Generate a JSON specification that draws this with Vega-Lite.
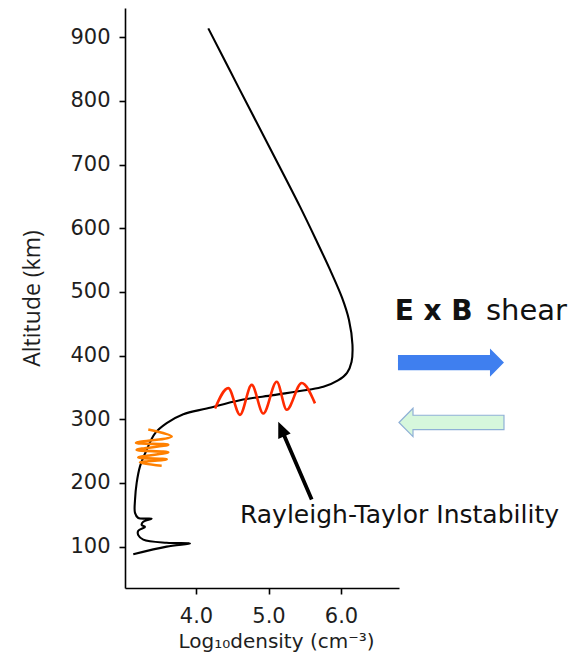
{
  "$schema": "https://vega.github.io/schema/vega-lite/v6.json",
  "width": 274,
  "height": 580,
  "autosize": {"type": "none"},
  "padding": {"left": 125, "top": 8, "right": 176, "bottom": 69},
  "background": "white",
  "config": {
    "view": {"stroke": null},
    "axis": {
      "grid": false,
      "domainColor": "black",
      "domainWidth": 1.6,
      "tickColor": "black",
      "tickWidth": 1.6,
      "tickSize": 6,
      "labelFont": "DejaVu Sans",
      "labelFontSize": 21,
      "labelColor": "#1e1e1e",
      "titleColor": "#1e1e1e",
      "titleFontWeight": "normal"
    }
  },
  "datasets": {
    "profile": [
      {"i": 1, "density": 4.169, "altitude": 914},
      {"i": 2, "density": 4.606, "altitude": 817},
      {"i": 3, "density": 5.033, "altitude": 723},
      {"i": 4, "density": 5.434, "altitude": 634},
      {"i": 5, "density": 5.655, "altitude": 582},
      {"i": 6, "density": 5.848, "altitude": 535},
      {"i": 7, "density": 6.014, "altitude": 491},
      {"i": 8, "density": 6.110, "altitude": 456},
      {"i": 9, "density": 6.158, "altitude": 417},
      {"i": 10, "density": 6.145, "altitude": 390},
      {"i": 11, "density": 6.083, "altitude": 373},
      {"i": 12, "density": 5.958, "altitude": 361},
      {"i": 13, "density": 5.756, "altitude": 351},
      {"i": 14, "density": 5.527, "altitude": 346},
      {"i": 15, "density": 5.066, "altitude": 338},
      {"i": 16, "density": 4.606, "altitude": 330},
      {"i": 17, "density": 4.147, "altitude": 317},
      {"i": 18, "density": 3.824, "altitude": 308},
      {"i": 19, "density": 3.595, "altitude": 294},
      {"i": 20, "density": 3.434, "altitude": 278},
      {"i": 21, "density": 3.319, "altitude": 252},
      {"i": 22, "density": 3.227, "altitude": 226},
      {"i": 23, "density": 3.181, "altitude": 200},
      {"i": 24, "density": 3.158, "altitude": 173},
      {"i": 25, "density": 3.158, "altitude": 153},
      {"i": 26, "density": 3.203, "altitude": 145},
      {"i": 27, "density": 3.388, "altitude": 144},
      {"i": 28, "density": 3.272, "altitude": 139},
      {"i": 29, "density": 3.250, "altitude": 134},
      {"i": 30, "density": 3.296, "altitude": 131},
      {"i": 31, "density": 3.203, "altitude": 125},
      {"i": 32, "density": 3.203, "altitude": 118},
      {"i": 33, "density": 3.272, "altitude": 111},
      {"i": 34, "density": 3.595, "altitude": 106},
      {"i": 35, "density": 3.917, "altitude": 105},
      {"i": 36, "density": 3.595, "altitude": 100},
      {"i": 37, "density": 3.134, "altitude": 88}
    ],
    "rt_wave": [
      {"i": 1, "density": 4.262, "altitude": 317},
      {"i": 2, "density": 4.445, "altitude": 349},
      {"i": 3, "density": 4.606, "altitude": 307},
      {"i": 4, "density": 4.768, "altitude": 354},
      {"i": 5, "density": 4.928, "altitude": 309},
      {"i": 6, "density": 5.113, "altitude": 359},
      {"i": 7, "density": 5.251, "altitude": 315},
      {"i": 8, "density": 5.458, "altitude": 357},
      {"i": 9, "density": 5.641, "altitude": 325}
    ],
    "coil": [
      {"i": 1, "density": 3.341, "altitude": 284},
      {"i": 2, "density": 3.664, "altitude": 273},
      {"i": 3, "density": 3.172, "altitude": 263},
      {"i": 4, "density": 3.617, "altitude": 260},
      {"i": 5, "density": 3.181, "altitude": 252},
      {"i": 6, "density": 3.617, "altitude": 248},
      {"i": 7, "density": 3.203, "altitude": 240},
      {"i": 8, "density": 3.595, "altitude": 237},
      {"i": 9, "density": 3.227, "altitude": 232},
      {"i": 10, "density": 3.526, "altitude": 227}
    ],
    "rt_arrow": [{"density": 5.365, "altitude": 235}],
    "blue_arrow": [{"density": 7.517, "altitude": 389}],
    "green_arrow": [{"density": 7.524, "altitude": 295}],
    "rt_label": [{"density": 4.606, "altitude": 137, "label": "Rayleigh-Taylor Instability"}],
    "exb_label": [{"density": 6.74, "altitude": 456, "label": "E x B"}],
    "shear_label": [{"density": 8.0, "altitude": 456, "label": "shear"}]
  },
  "encoding": {
    "x": {
      "field": "density",
      "type": "quantitative",
      "scale": {"domain": [3.02, 6.8], "nice": false, "zero": false},
      "axis": {
        "values": [4, 5, 6],
        "format": ".1f",
        "labelPadding": 11,
        "title": "Log₁₀density (cm⁻³)",
        "titleFont": "DejaVu Sans",
        "titleFontSize": 20,
        "titlePadding": 5,
        "titleX": 151
      }
    },
    "y": {
      "field": "altitude",
      "type": "quantitative",
      "scale": {"domain": [35, 946], "nice": false, "zero": false},
      "axis": {
        "values": [100, 200, 300, 400, 500, 600, 700, 800, 900],
        "format": "d",
        "labelPadding": 9,
        "title": "Altitude (km)",
        "titleFont": "Open Sans",
        "titleFontSize": 23,
        "titlePadding": 25
      }
    }
  },
  "layer": [
    {
      "data": {"name": "profile"},
      "mark": {"type": "line", "color": "black", "strokeWidth": 2.1, "interpolate": "catmull-rom"},
      "encoding": {"order": {"field": "i", "type": "quantitative"}}
    },
    {
      "data": {"name": "coil"},
      "mark": {"type": "line", "color": "#ff8000", "strokeWidth": 2.6, "interpolate": "catmull-rom"},
      "encoding": {"order": {"field": "i", "type": "quantitative"}}
    },
    {
      "data": {"name": "rt_wave"},
      "mark": {"type": "line", "color": "#ff2a00", "strokeWidth": 2.6, "interpolate": "monotone"},
      "encoding": {"order": {"field": "i", "type": "quantitative"}}
    },
    {
      "data": {"name": "rt_arrow"},
      "mark": {
        "type": "point",
        "shape": "M0,-1L0.16,-0.63L0.045,-0.63L0.045,1L-0.045,1L-0.045,-0.63L-0.16,-0.63Z",
        "size": 7140,
        "angle": -23.3,
        "filled": true,
        "fill": "black",
        "opacity": 1,
        "strokeWidth": 0
      }
    },
    {
      "data": {"name": "blue_arrow"},
      "mark": {
        "type": "point",
        "shape": "M-1,-0.142L0.736,-0.142L0.736,-0.268L1,0L0.736,0.268L0.736,0.142L-1,0.142Z",
        "size": 11236,
        "filled": true,
        "fill": "#3f7fef",
        "opacity": 1,
        "strokeWidth": 0
      }
    },
    {
      "data": {"name": "green_arrow"},
      "mark": {
        "type": "point",
        "shape": "M-1,0L-0.733,-0.27L-0.733,-0.137L1,-0.137L1,0.137L-0.733,0.137L-0.733,0.27Z",
        "size": 11025,
        "filled": true,
        "fill": "#d6f7dc",
        "stroke": "#8fb0d6",
        "strokeWidth": 1.2,
        "opacity": 1
      }
    },
    {
      "data": {"name": "rt_label"},
      "mark": {"type": "text", "align": "left", "baseline": "alphabetic", "font": "DejaVu Sans", "fontSize": 25, "color": "#111"},
      "encoding": {"text": {"field": "label"}}
    },
    {
      "data": {"name": "exb_label"},
      "mark": {"type": "text", "align": "left", "baseline": "alphabetic", "font": "DejaVu Sans", "fontSize": 28, "fontWeight": "bold", "color": "#111"},
      "encoding": {"text": {"field": "label"}}
    },
    {
      "data": {"name": "shear_label"},
      "mark": {"type": "text", "align": "left", "baseline": "alphabetic", "font": "DejaVu Sans", "fontSize": 29, "color": "#111"},
      "encoding": {"text": {"field": "label"}}
    }
  ]
}
